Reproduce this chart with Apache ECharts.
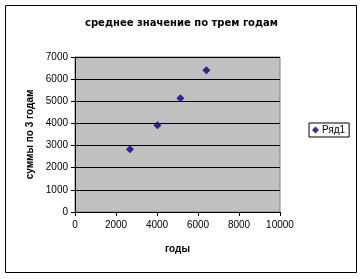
<!DOCTYPE html>
<html><head><meta charset="utf-8">
<script src="https://cdn.jsdelivr.net/npm/echarts@6/dist/echarts.min.js"></script>
<style>html,body{margin:0;padding:0;background:#fff}#c{width:363px;height:279px}</style>
</head><body><div id="c"></div>
<script>
const titleText = 'среднее значение по трем годам';
const xName = 'годы';
const yName = 'суммы по 3 годам';
const seriesName = 'Ряд1';
const xValues = [2680, 4020, 5140, 6410];
const yValues = [2830, 3920, 5140, 6400];

const chart = echarts.init(document.getElementById('c'), null, {renderer: 'canvas'});
const font = 'Liberation Sans';
chart.setOption({
  animation: false,
  backgroundColor: '#fff',
  textStyle: {fontFamily: font},
  title: {text: titleText, left: 'center', top: 13,
    textStyle: {fontSize: 10, fontWeight: 'bold', color: '#000', fontFamily: 'DejaVu Sans'}},
  graphic: [{type: 'rect', shape: {x: 5.5, y: 5.5, width: 351, height: 267},
    style: {fill: 'none', stroke: '#000', lineWidth: 1}, z: -1}],
  legend: {left: 309, top: 123, orient: 'vertical', padding: [2, 4, 2, 3],
    borderColor: '#000', borderWidth: 1, itemWidth: 7, itemHeight: 7, itemGap: 4,
    textStyle: {fontSize: 10, color: '#000', fontFamily: font, padding: [0, 0, 0, -2]},
    data: [{name: seriesName, icon: 'diamond'}]},
  grid: {left: 75, top: 57, right: 83, bottom: 67, show: true,
    backgroundColor: '#c0c0c0', borderColor: '#808080', borderWidth: 1},
  xAxis: {type: 'value', min: 0, max: 10000, interval: 2000,
    name: xName, nameLocation: 'middle', nameGap: 32,
    nameTextStyle: {fontSize: 10, fontWeight: 'bold', color: '#000'},
    axisLine: {show: true, lineStyle: {color: '#000'}},
    axisTick: {show: true, inside: false, length: 4, lineStyle: {color: '#000'}},
    axisLabel: {fontSize: 10, color: '#000', margin: 8, formatter: v => String(v)},
    splitLine: {show: false}},
  yAxis: {type: 'value', min: 0, max: 7000, interval: 1000,
    name: yName, nameLocation: 'middle', nameGap: 40, nameRotate: 90,
    nameTextStyle: {fontSize: 10, fontWeight: 'bold', color: '#000'},
    axisLine: {show: true, lineStyle: {color: '#000'}},
    axisTick: {show: true, inside: false, length: 4, lineStyle: {color: '#000'}},
    axisLabel: {fontSize: 10, color: '#000', margin: 7, formatter: v => String(v)},
    splitLine: {show: true, lineStyle: {color: '#000', width: 1}}},
  series: [{name: seriesName, type: 'scatter', symbol: 'diamond', symbolSize: 8,
    itemStyle: {color: '#000080'},
    data: xValues.map((x, i) => [x, yValues[i]])}]
});
</script></body></html>
